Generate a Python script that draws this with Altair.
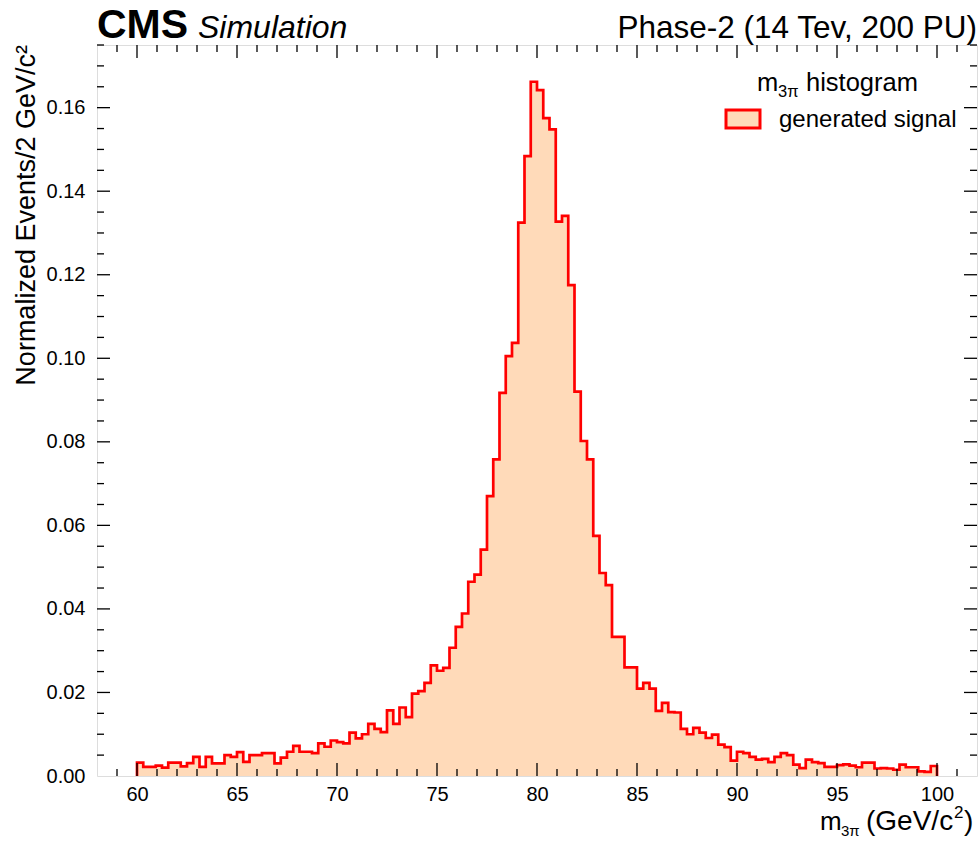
import altair as alt
import pandas as pd

FONT = "Liberation Sans"

# ---- data -------------------------------------------------------------
x_lo, x_hi, n_bins = 60.0, 100.0, 128
counts = [
    0.0032, 0.0022, 0.0022, 0.0025, 0.0020, 0.0032, 0.0032, 0.0023,
    0.0031, 0.0046, 0.0022, 0.0046, 0.0030, 0.0030, 0.0050, 0.0046,
    0.0057, 0.0034, 0.0050, 0.0050, 0.0055, 0.0055, 0.0030, 0.0044,
    0.0058, 0.0072, 0.0058, 0.0058, 0.0055, 0.0078, 0.0070, 0.0085,
    0.0081, 0.0078, 0.0104, 0.0090, 0.0100, 0.0125, 0.0113, 0.0105,
    0.0157, 0.0125, 0.0164, 0.0141, 0.0197, 0.0203, 0.0223, 0.0265,
    0.0252, 0.0259, 0.0307, 0.0357, 0.0389, 0.0465, 0.0482, 0.0542,
    0.0670, 0.0758, 0.0917, 0.1005, 0.1037, 0.1325, 0.1484, 0.1662,
    0.1642, 0.1575, 0.1548, 0.1327, 0.1341, 0.1175, 0.0920, 0.0802,
    0.0758, 0.0575, 0.0486, 0.0457, 0.0333, 0.0333, 0.0260, 0.0260,
    0.0209, 0.0223, 0.0209, 0.0156, 0.0175, 0.0153, 0.0152, 0.0113,
    0.0100, 0.0115, 0.0104, 0.0091, 0.0099, 0.0075, 0.0069, 0.0037,
    0.0058, 0.0055, 0.0046, 0.0039, 0.0041, 0.0033, 0.0046, 0.0055,
    0.0050, 0.0027, 0.0019, 0.0039, 0.0033, 0.0031, 0.0022, 0.0022,
    0.0026, 0.0028, 0.0025, 0.0021, 0.0032, 0.0032, 0.0018, 0.0019,
    0.0018, 0.0015, 0.0027, 0.0021, 0.0021, 0.0011, 0.0010, 0.0024,
]

x_labels = [60, 65, 70, 75, 80, 85, 90, 95, 100]
x_minor = [v for v in range(59, 102) if v % 5 != 0]
y_labels = [0.00, 0.02, 0.04, 0.06, 0.08, 0.10, 0.12, 0.14, 0.16]
y_minor = [round(0.005 * i, 3) for i in range(1, 36) if i % 4 != 0]

cms_text = ["CMS"]
sim_text = ["Simulation"]
right_text = ["Phase-2 (14 Tev, 200 PU)"]
ytitle_text = ["Normalized Events/2 GeV/c²"]
m_text = ["m"]
sub_text = ["3π"]
unit_open = ["(GeV/c"]
sup_text = ["2"]
unit_close = [")"]
leg_tail = ["histogram"]
leg_label = ["generated signal"]

# ---- geometry ---------------------------------------------------------
W, H = 880, 731
MAJ, MIN = 13, 7
FILL = "#FFDAB9"
LINE = "#FF0000"

bin_w = (x_hi - x_lo) / n_bins
left_edges = [x_lo + i * bin_w for i in range(n_bins)]
# outline: starts on the baseline at 60, steps through each bin, back to baseline at 100
hx = [x_lo] + left_edges + [x_hi]
hy = [0.0] + counts + [0.0]
hist = pd.DataFrame({"x": hx, "y": hy, "i": list(range(len(hx)))})
fill_df = pd.DataFrame({"x": left_edges + [x_hi], "y": counts + [0.0]})

xs = alt.Scale(domain=[58, 102], nice=False, zero=False)
ys = alt.Scale(domain=[0, 0.175], nice=False)

xaxis = alt.Axis(values=x_labels, format="d", title=None, tickSize=0, domain=False,
                 grid=False, labelFontSize=20, labelFont=FONT, labelColor="black",
                 labelPadding=8)
yaxis = alt.Axis(values=y_labels, format=".2f", title=None, tickSize=0, domain=False,
                 grid=False, labelFontSize=20, labelFont=FONT, labelColor="black",
                 labelPadding=12)

area = alt.Chart(fill_df).mark_area(interpolate="step-after", color=FILL, opacity=1).encode(
    x=alt.X("x:Q", scale=xs, axis=xaxis),
    y=alt.Y("y:Q", scale=ys, axis=yaxis, stack=None),
)
line = alt.Chart(hist).mark_line(interpolate="step-after", color=LINE, strokeWidth=2.7,
                                 strokeJoin="miter").encode(
    x=alt.X("x:Q", scale=xs, axis=xaxis),
    y=alt.Y("y:Q", scale=ys, axis=yaxis),
    order=alt.Order("i:Q"),
)


def xticks(vals, length, top):
    df = pd.DataFrame({"v": vals})
    y0 = 0 if top else H
    y1 = length if top else H - length
    return alt.Chart(df).mark_rule(color="black", strokeWidth=1.3).encode(
        x=alt.X("v:Q", scale=xs, axis=xaxis), y=alt.value(y0), y2=alt.value(y1))


def yticks(vals, length, right):
    df = pd.DataFrame({"v": vals})
    x0 = W if right else 0
    x1 = W - length if right else length
    return alt.Chart(df).mark_rule(color="black", strokeWidth=1.3).encode(
        y=alt.Y("v:Q", scale=ys, axis=yaxis), x=alt.value(x0), x2=alt.value(x1))


ticks = [
    xticks(x_labels, MAJ, False), xticks(x_minor, MIN, False),
    xticks(x_labels, MAJ, True), xticks(x_minor, MIN, True),
    yticks(y_labels[1:], MAJ, False), yticks(y_minor, MIN, False),
    yticks(y_labels[1:], MAJ, True), yticks(y_minor, MIN, True),
]


def label(txt, x, y, size, align="left", weight="normal", style="normal", angle=0,
          baseline="alphabetic"):
    df = pd.DataFrame({"t": txt})
    kw = dict(font=FONT, fontSize=size, align=align, baseline=baseline,
              fontWeight=weight, fontStyle=style, color="black")
    if angle:
        kw["angle"] = angle
    return alt.Chart(df).mark_text(**kw).encode(
        text="t:N", x=alt.value(x), y=alt.value(y))


texts = [
    label(cms_text, 0, -7, 41, weight="bold"),
    label(sim_text, 101, -7, 32, style="italic"),
    label(right_text, W, -7, 31.5, align="right"),
    label(ytitle_text, -70, 0, 27, align="right", angle=270, baseline="middle"),
    # x title
    label(m_text, 723, 785, 26),
    label(sub_text, 744, 791, 15),
    label(unit_open, 769, 785, 28),
    label(sup_text, 857, 773, 17),
    label(unit_close, 867, 785, 28),
    # legend title
    label(m_text, 660, 46, 25.5),
    label(sub_text, 681, 52, 16.5),
    label(leg_tail, 709, 46, 25.5),
    # legend entry
    label(leg_label, 682, 82, 24),
]

legend_box = alt.Chart(pd.DataFrame({"t": leg_label})).mark_rect(
    fill=FILL, stroke=LINE, strokeWidth=3).encode(
    x=alt.value(629), x2=alt.value(663), y=alt.value(65), y2=alt.value(83))

chart = alt.layer(area, line, *ticks, legend_box, *texts).properties(
    width=W, height=H,
    padding={"left": 97, "top": 45, "right": 2, "bottom": 65},
    autosize=alt.AutoSizeParams(type="none"),
).configure_view(stroke="black", strokeWidth=2.2, fill="white").configure(
    background="white")

chart.save("out.html", embed_options={"renderer": "svg", "actions": False})
